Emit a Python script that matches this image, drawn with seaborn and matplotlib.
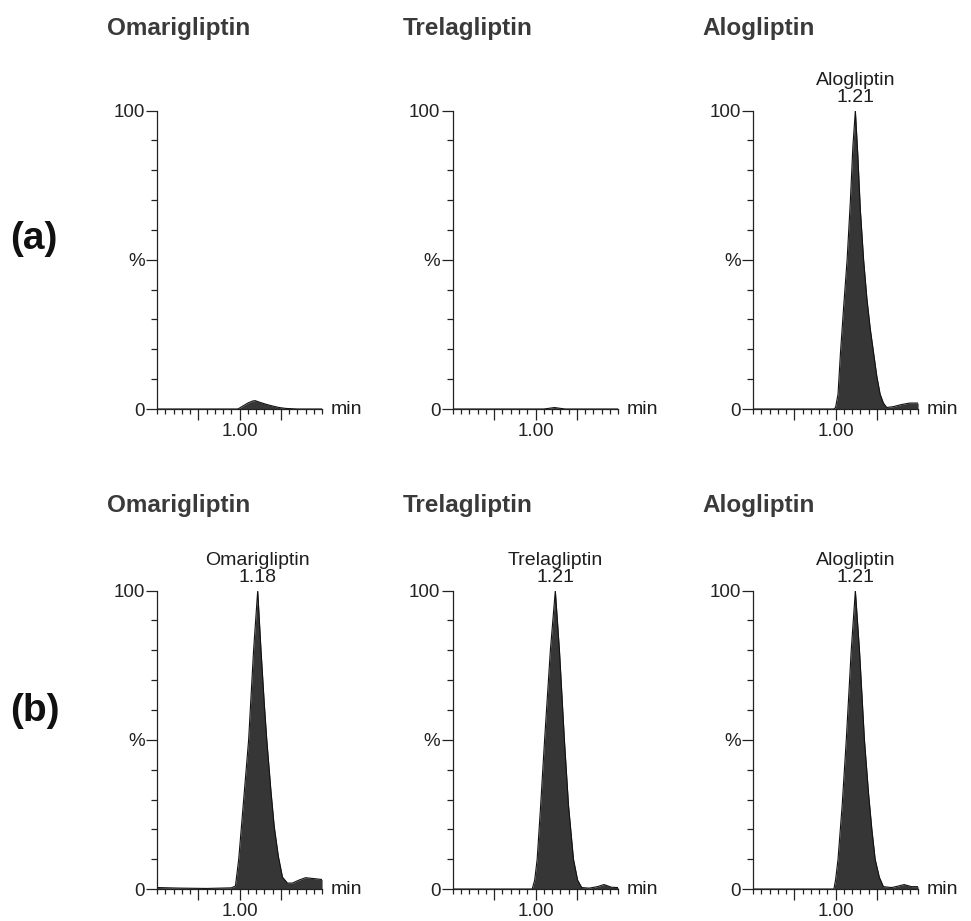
import matplotlib
matplotlib.use("Agg")
import matplotlib.pyplot as plt
from matplotlib.ticker import MultipleLocator, FixedLocator
import seaborn as sns

# ---- data (time in min, intensity in %) ----
row_labels = ["(a)", "(b)"]
titles = ["Omarigliptin", "Trelagliptin", "Alogliptin"]

t_oma_a = [0.00, 0.50, 0.98, 1.04, 1.10, 1.16, 1.19, 1.24, 1.32, 1.40, 1.48, 1.56, 1.70, 2.00]
i_oma_a = [0.0, 0.0, 0.0, 1.0, 2.0, 2.7, 2.8, 2.3, 1.6, 1.0, 0.5, 0.2, 0.0, 0.0]

t_tre_a = [0.00, 1.10, 1.18, 1.23, 1.28, 1.36, 2.00]
i_tre_a = [0.0, 0.0, 0.3, 0.5, 0.3, 0.0, 0.0]

t_alo_a = [0.00, 0.98, 1.00, 1.03, 1.06, 1.10, 1.14, 1.18, 1.21, 1.24, 1.27, 1.30, 1.34,
           1.38, 1.42, 1.46, 1.50, 1.54, 1.58, 1.62, 1.70, 1.80, 1.90, 2.00]
i_alo_a = [0.0, 0.0, 0.5, 5, 19, 35, 50, 70, 88, 100, 85, 67, 50,
           37, 27, 19, 11, 5, 2, 0.5, 0.8, 1.5, 2.0, 2.0]

t_oma_b = [0.00, 0.30, 0.60, 0.90, 0.95, 0.99, 1.05, 1.11, 1.17, 1.22, 1.26, 1.30, 1.33,
           1.38, 1.42, 1.47, 1.52, 1.58, 1.64, 1.72, 1.80, 1.90, 2.00]
i_oma_b = [0.5, 0.3, 0.2, 0.4, 1.0, 10, 30, 50, 80, 100, 80, 62, 50,
           33, 21, 11, 4, 2, 2, 3, 3.8, 3.5, 3.2]

t_tre_b = [0.00, 0.96, 0.99, 1.02, 1.06, 1.11, 1.18, 1.24, 1.29, 1.35, 1.40, 1.46,
           1.51, 1.56, 1.65, 1.75, 1.83, 1.92, 2.00]
i_tre_b = [0.0, 0.0, 3, 10, 27, 50, 80, 100, 80, 50, 28, 10,
           3, 0.5, 0.3, 0.8, 1.5, 0.6, 0.5]

t_alo_b = [0.00, 0.98, 1.00, 1.03, 1.08, 1.13, 1.19, 1.24, 1.29, 1.35, 1.40, 1.44,
           1.48, 1.53, 1.58, 1.68, 1.76, 1.83, 1.92, 2.00]
i_alo_b = [0, 0, 3, 10, 28, 50, 80, 100, 80, 50, 32, 20,
           10, 4, 0.8, 0.5, 1.0, 1.5, 0.8, 0.8]

# peak labels (None = no label drawn)
peak_a = [None, None, ("Alogliptin", "1.21")]
peak_b = [("Omarigliptin", "1.18"), ("Trelagliptin", "1.21"), ("Alogliptin", "1.21")]

x_major = [0.5, 1.0, 1.5]
x_major_labels = ["", "1.00", ""]
y_major = [0, 50, 100]
y_major_labels = ["0", "%", "100"]

traces = [
    [(t_oma_a, i_oma_a), (t_tre_a, i_tre_a), (t_alo_a, i_alo_a)],
    [(t_oma_b, i_oma_b), (t_tre_b, i_tre_b), (t_alo_b, i_alo_b)],
]
peaks = [peak_a, peak_b]

sns.set_theme(style="ticks")
plt.rcParams["font.family"] = ["Liberation Sans", "DejaVu Sans"]

fig = plt.figure(figsize=(9.71, 9.21), dpi=100)

col_left = [0.1617, 0.4665, 0.7755]
row_bottom = [0.5559, 0.0347]
ax_w, ax_h = 0.170, 0.324
title_y = [0.969, 0.451]
label_y = [0.740, 0.228]

fill_c = "#363636"
text_c = "#1e1e1e"

for r in range(2):
    fig.text(0.010, label_y[r], row_labels[r], fontsize=28, fontweight="bold",
             color="#111111", va="center", ha="left")
    for c in range(3):
        ax = fig.add_axes([col_left[c], row_bottom[r], ax_w, ax_h])
        t, y = traces[r][c]
        ax.fill_between(t, y, 0, color=fill_c, lw=0)
        sns.lineplot(x=t, y=y, ax=ax, color="#111111", lw=0.8, sort=False)
        ax.set_xlim(0, 2)
        ax.set_ylim(0, 100)
        ax.margins(0)
        sns.despine(ax=ax)
        for s in ("left", "bottom"):
            ax.spines[s].set_linewidth(0.9)
            ax.spines[s].set_color("#222222")

        ax.xaxis.set_major_locator(FixedLocator(x_major))
        ax.set_xticklabels(x_major_labels)
        ax.xaxis.set_minor_locator(MultipleLocator(0.1))
        ax.yaxis.set_major_locator(FixedLocator(y_major))
        ax.set_yticklabels(y_major_labels)
        ax.yaxis.set_minor_locator(MultipleLocator(10))
        ax.tick_params(axis="x", which="major", length=8, width=0.9, pad=2,
                       labelsize=13.5, colors="#222222")
        ax.tick_params(axis="x", which="minor", length=3.5, width=0.9, colors="#222222")
        ax.tick_params(axis="y", which="major", length=8, width=0.9, pad=1,
                       labelsize=13.5, colors="#222222")
        ax.tick_params(axis="y", which="minor", length=4, width=0.9, colors="#222222")
        ax.set_xlabel("")
        ax.set_ylabel("")

        ax.annotate("min", xy=(1.05, 0), xycoords=("axes fraction", "data"),
                    fontsize=14, color=text_c, va="center", ha="left")

        pk = peaks[r][c]
        if pk is not None:
            k = y.index(max(y))
            ax.annotate(pk[0] + "\n" + pk[1], xy=(t[k], y[k]),
                        xytext=(0, 3), textcoords="offset points",
                        ha="center", va="bottom", fontsize=14,
                        color=text_c, linespacing=1.05, annotation_clip=False)

        fig.text(col_left[c] - 0.052, title_y[r], titles[c], fontsize=17.5,
                 fontweight="bold", color="#3a3a3a", va="center", ha="left")

fig.savefig("out.png", dpi=100)
